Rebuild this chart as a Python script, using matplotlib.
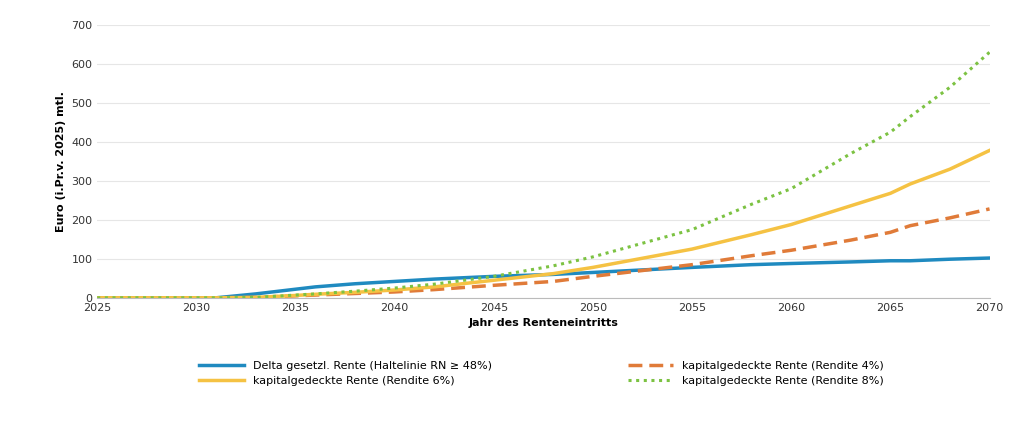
import matplotlib.pyplot as plt

years = [2025, 2031, 2033, 2035, 2036, 2038, 2040, 2042, 2045, 2048, 2050, 2055, 2058, 2060, 2063, 2065, 2066, 2068, 2070]
delta = [0, 0, 10, 22, 28, 36, 42, 48, 55, 60, 65, 78, 85, 88, 92, 95, 95, 99, 102]
r4 = [0, 0, 1, 5, 7, 11, 15, 21, 32, 42, 55, 85, 108, 122, 148, 168, 185, 205, 228]
r6 = [0, 0, 1, 6, 9, 14, 20, 28, 45, 62, 78, 125, 162, 188, 236, 268, 292, 330, 378]
r8 = [0, 0, 1, 7, 10, 17, 25, 35, 55, 82, 105, 175, 240, 280, 370, 425, 465, 540, 630]

fig = plt.figure(figsize=(10.34, 4.23), dpi=100)
ax = fig.add_axes([0.094, 0.296, 0.863, 0.645])

ax.plot(years, delta, color='#1f8ac0', lw=2.5, label='Delta gesetzl. Rente (Haltelinie RN \u2265 48%)')
ax.plot(years, r4, color='#e07b39', lw=2.5, ls=(0, (4, 2)), label='kapitalgedeckte Rente (Rendite 4%)')
ax.plot(years, r6, color='#f5c243', lw=2.5, label='kapitalgedeckte Rente (Rendite 6%)')
ax.plot(years, r8, color='#7cc242', lw=2.2, ls=(0, (1, 1.5)), label='kapitalgedeckte Rente (Rendite 8%)')

ax.set_xlim(2025, 2070)
ax.set_ylim(0, 700)
ax.set_xticks(range(2025, 2071, 5))
ax.set_yticks(range(0, 701, 100))
ax.tick_params(labelsize=8, length=0, colors='#333333')
ax.grid(axis='y', color='#e6e6e6', lw=0.8)
for s in ['top', 'right', 'left']:
    ax.spines[s].set_visible(False)
ax.spines['bottom'].set_color('#bbbbbb')
ax.set_ylabel('Euro (i.Pr.v. 2025) mtl.', fontsize=8, fontweight='bold')
ax.set_xlabel('Jahr des Renteneintritts', fontsize=8, fontweight='bold')

h, l = ax.get_legend_handles_labels()
order = [0, 2, 1, 3]
fig.legend([h[i] for i in order], [l[i] for i in order], ncol=2, loc='upper left',
           bbox_to_anchor=(0.183, 0.17), frameon=False, fontsize=8,
           columnspacing=12.3, handlelength=4, labelspacing=0.4)

fig.savefig('out.png')
